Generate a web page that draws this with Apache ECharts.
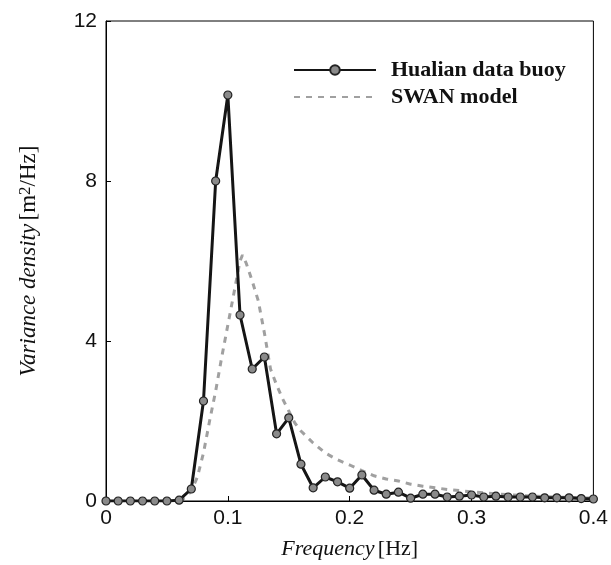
<!DOCTYPE html>
<html>
<head>
<meta charset="utf-8">
<script src="https://cdn.jsdelivr.net/npm/echarts@6/dist/echarts.min.js"></script>
<style>html,body{margin:0;padding:0;background:#fff}#c{width:611px;height:565px}</style>
</head>
<body>
<div id="c"></div>
<script>
// Hualian data buoy (0.01 Hz spacing, 0 .. 0.40 Hz)
const buoyFreq = [0,0.01,0.02,0.03,0.04,0.05,0.06,0.07,0.08,0.09,0.10,0.11,0.12,0.13,0.14,0.15,0.16,0.17,0.18,0.19,0.20,0.21,0.22,0.23,0.24,0.25,0.26,0.27,0.28,0.29,0.30,0.31,0.32,0.33,0.34,0.35,0.36,0.37,0.38,0.39,0.40];
const buoyValues = [0,0,0,0,0,0,0.02,0.3,2.5,8.0,10.15,4.65,3.3,3.6,1.68,2.08,0.92,0.33,0.6,0.48,0.32,0.65,0.27,0.17,0.22,0.07,0.17,0.17,0.1,0.12,0.15,0.1,0.12,0.1,0.1,0.1,0.08,0.08,0.08,0.06,0.05];
// SWAN model
const swanFreq = [0.06,0.065,0.07,0.075,0.08,0.085,0.09,0.095,0.10,0.105,0.11,0.112,0.115,0.12,0.125,0.13,0.135,0.14,0.145,0.15,0.155,0.16,0.17,0.18,0.19,0.20,0.21,0.22,0.23,0.24,0.25,0.26,0.27,0.28,0.29,0.30,0.32,0.34,0.36,0.38,0.40];
const swanValues = [0.02,0.08,0.25,0.6,1.2,2.0,2.75,3.6,4.4,5.2,6.0,6.15,5.95,5.5,5.0,4.2,3.3,2.9,2.55,2.25,1.95,1.75,1.45,1.2,1.03,0.9,0.76,0.63,0.55,0.5,0.42,0.37,0.33,0.29,0.26,0.23,0.18,0.14,0.11,0.09,0.07];
const xTicks = [0,0.1,0.2,0.3,0.4];
const yTicks = [0,4,8,12];

const chart = echarts.init(document.getElementById('c'));
const serif = '"Liberation Serif","DejaVu Serif",serif';
const sans = '"Liberation Sans",Arial,sans-serif';
chart.setOption({
  animation: false,
  backgroundColor: '#fff',
  grid: {left: 106, right: 15, top: 21, bottom: 60, show: true, borderColor: '#000', borderWidth: 1},
  legend: {
    orient: 'vertical', left: 288, top: 54, itemWidth: 82, itemHeight: 12, itemGap: 5,
    textStyle: {fontFamily: serif, fontWeight: 'bold', fontSize: 22, color: '#111', padding: [0, 0, 0, 10]},
    data: [
      {name: 'Hualian data buoy'},
      {name: 'SWAN model', itemStyle: {opacity: 0}}
    ]
  },
  xAxis: {
    type: 'value', min: xTicks[0], max: xTicks[xTicks.length-1], interval: 0.1,
    axisLine: {lineStyle: {color: '#000', width: 1}},
    axisTick: {inside: true, length: 5, lineStyle: {color: '#000'}},
    splitLine: {show: false},
    axisLabel: {fontFamily: sans, fontSize: 21, color: '#111', margin: 7,
      formatter: v => xTicks.includes(+v.toFixed(2)) ? String(+v.toFixed(2)) : ''},
    name: '{i|Frequency} {r|[Hz]}', nameLocation: 'middle', nameGap: 37,
    nameTextStyle: {rich: {
      i: {fontFamily: serif, fontStyle: 'italic', fontSize: 22, color: '#111'},
      r: {fontFamily: serif, fontSize: 22, color: '#111'}
    }}
  },
  yAxis: {
    type: 'value', min: yTicks[0], max: yTicks[yTicks.length-1], interval: 4,
    axisLine: {lineStyle: {color: '#000', width: 1}},
    axisTick: {inside: true, length: 5, lineStyle: {color: '#000'}},
    splitLine: {show: false},
    axisLabel: {fontFamily: sans, fontSize: 21, color: '#111', margin: 9},
    name: '{i|Variance density} {r|[m}{s|2}{r|/Hz]}', nameLocation: 'middle', nameGap: 66, nameRotate: 90,
    nameTextStyle: {rich: {
      i: {fontFamily: serif, fontStyle: 'italic', fontSize: 23, color: '#111'},
      r: {fontFamily: serif, fontSize: 23, color: '#111'},
      s: {fontFamily: serif, fontSize: 17, color: '#111', verticalAlign: 'top', padding: [0, 0, 6, 0]}
    }}
  },
  series: [
    {
      name: 'SWAN model', type: 'line', z: 2,
      data: swanFreq.map((f, i) => [f, swanValues[i]]),
      showSymbol: false, symbol: 'none', smooth: false,
      lineStyle: {color: '#a0a0a0', width: 3, type: [6, 6]},
      itemStyle: {color: '#a0a0a0'}
    },
    {
      name: 'Hualian data buoy', type: 'line', z: 3,
      data: buoyFreq.map((f, i) => [f, buoyValues[i]]),
      symbol: 'circle', symbolSize: 8,
      lineStyle: {color: '#151515', width: 3},
      itemStyle: {color: '#8a8a8a', borderColor: '#222', borderWidth: 1.2}
    }
  ]
});
</script>
</body>
</html>
